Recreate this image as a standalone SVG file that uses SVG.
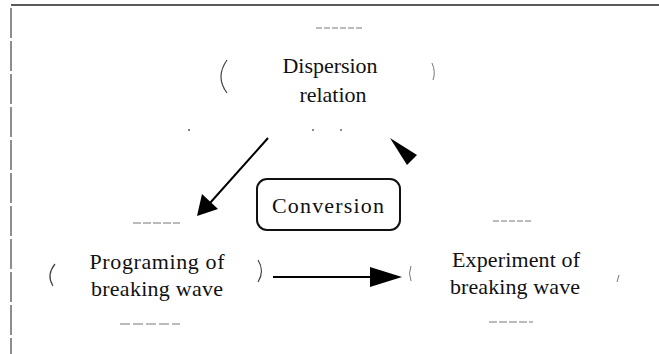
<svg xmlns="http://www.w3.org/2000/svg" width="659" height="354" viewBox="0 0 659 354">
<defs>
<style>
.t{font-family:"Liberation Serif","Times New Roman",serif;font-size:22px;fill:#111;text-anchor:middle}
.frag{fill:none;stroke:#444;stroke-width:1.2}
.faint{fill:none;stroke:#777;stroke-width:1}
.conn{stroke:#000;stroke-width:2;fill:none}
.head{fill:#000}
</style>
</defs>
<rect width="659" height="354" fill="#fff"/>
<g id="frame">
<line x1="11" y1="5" x2="659" y2="5" stroke="#222" stroke-width="1.5"/>
<line x1="11" y1="8" x2="11" y2="354" stroke="#444" stroke-width="1.2" stroke-dasharray="30 3"/>
</g>
<g id="node-dispersion">
<path class="frag" d="M227,60 Q215,77 227,93"/>
<path class="faint" d="M432,63 Q436,72 433,80"/>
<line class="faint" x1="316" y1="28" x2="362" y2="28" stroke-dasharray="6 2"/>
<circle cx="313" cy="130" r="0.9" fill="#555"/>
<circle cx="341" cy="130" r="0.9" fill="#555"/>
<circle cx="189" cy="130" r="1" fill="#555"/>
<text class="t" x="330" y="73" textLength="95" lengthAdjust="spacing">Dispersion</text>
<text class="t" x="333" y="102" textLength="67" lengthAdjust="spacing">relation</text>
</g>
<g id="node-conversion">
<rect x="257" y="179" width="143" height="51" rx="10" fill="none" stroke="#111" stroke-width="2"/>
<text class="t" x="328" y="213" textLength="112" lengthAdjust="spacing">Conversion</text>
</g>
<g id="node-programing">
<path class="frag" d="M55,264 Q46,275 53,286"/>
<path class="frag" d="M258,260 Q265,271 258,282"/>
<line class="faint" x1="133" y1="223" x2="180" y2="223" stroke-dasharray="8 2"/>
<line class="faint" x1="120" y1="324" x2="180" y2="324" stroke-dasharray="10 3"/>
<text class="t" x="157" y="269" textLength="135" lengthAdjust="spacing">Programing of</text>
<text class="t" x="157" y="296" textLength="132" lengthAdjust="spacing">breaking wave</text>
</g>
<g id="node-experiment">
<path class="faint" d="M411,266 Q408,273 411,281"/>
<line class="faint" x1="493" y1="221" x2="533" y2="221" stroke-dasharray="6 2"/>
<line class="faint" x1="489" y1="322" x2="533" y2="322" stroke-dasharray="8 2"/>
<path class="faint" d="M619,275 L617,282"/>
<text class="t" x="516" y="267" textLength="128" lengthAdjust="spacing">Experiment of</text>
<text class="t" x="515" y="294" textLength="130" lengthAdjust="spacing">breaking wave</text>
</g>
<g id="connectors">
<line class="conn" x1="268" y1="138" x2="210" y2="203"/>
<polygon class="head" points="197,216 202,194 218,209"/>
<polygon class="head" points="390,138 417,155 407,165"/>
<line class="conn" x1="273" y1="277" x2="372" y2="277"/>
<polygon class="head" points="402,277 370,267 370,287"/>
</g>
</svg>
